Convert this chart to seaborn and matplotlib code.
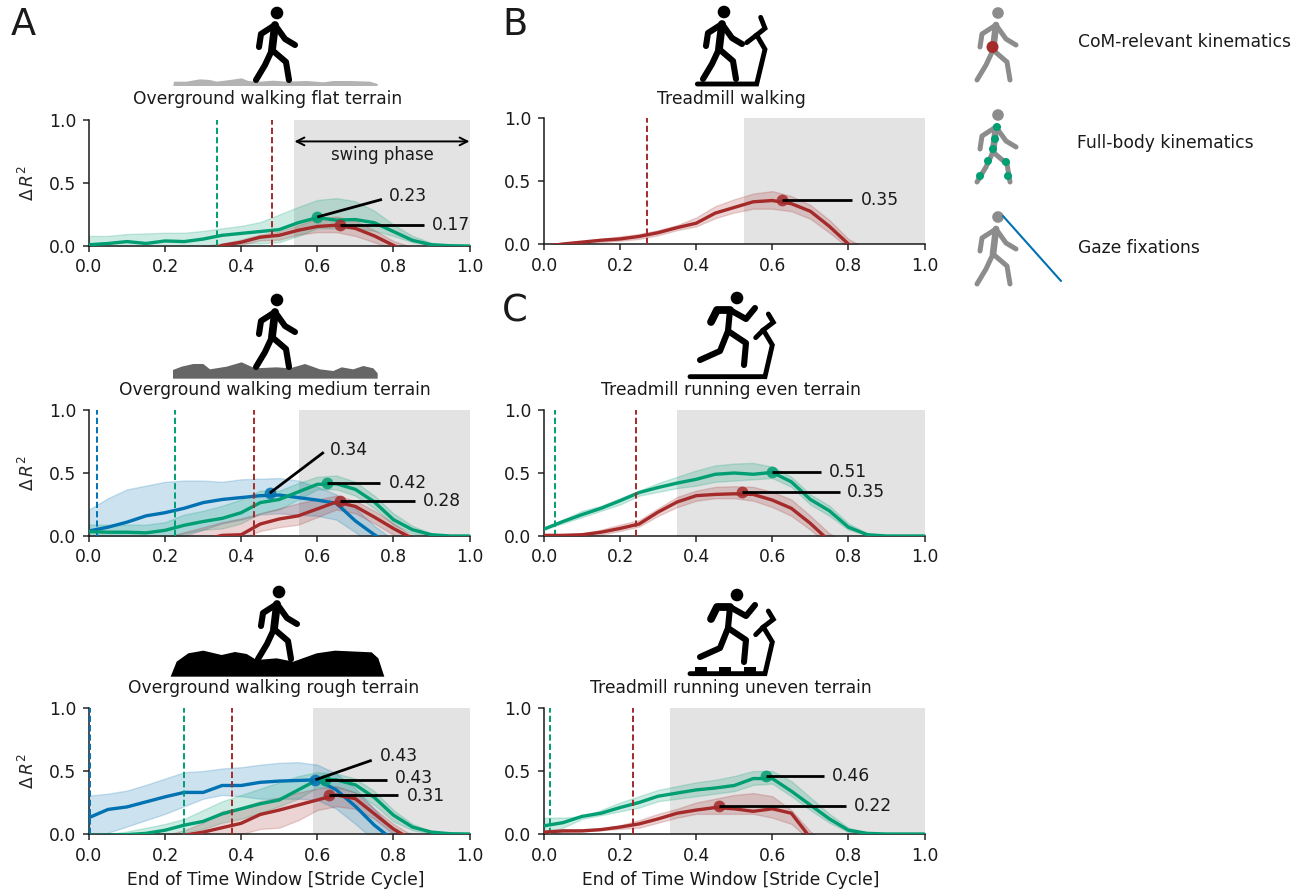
import matplotlib
matplotlib.use('Agg')
import matplotlib.pyplot as plt
import seaborn as sns

sns.set_style('ticks')
plt.rcParams['font.family'] = ['DejaVu Sans']
plt.rcParams['mathtext.fontset'] = 'dejavusans'

W, H = 1309, 896
GREEN, BLUE, RED = '#009E73', '#0072B2', '#A52A2A'
FS = 12.3

# shared time axis of every curve
xs = [0, .05, .1, .15, .2, .25, .3, .35, .4, .45, .5, .55, .6, .65, .7, .75, .8, .85, .9, .95, 1.0]

# ---- overground flat
flat_green = [.01, .02, .035, .02, .04, .035, .055, .085, .10, .115, .13, .185, .225, .205, .21, .185, .115, .045, .01, .002, 0]
flat_green_hi = [.08, .08, .095, .10, .105, .105, .12, .14, .16, .19, .25, .31, .365, .38, .355, .28, .17, .08, .025, .005, 0]
flat_green_lo = [-.05, -.05, -.03, -.05, -.03, -.03, -.02, .01, .02, .02, .03, .08, .14, .14, .14, .12, .08, .03, .005, 0, 0]
flat_red = [-.2, -.2, -.2, -.2, -.15, -.1, -.05, .005, .03, .07, .085, .125, .155, .165, .14, .08, .005, -.06, -.12, -.2, -.2]
flat_red_hi = [-.2, -.2, -.2, -.15, -.1, -.05, 0, .02, .05, .09, .115, .165, .215, .235, .20, .125, .04, -.01, -.1, -.2, -.2]
flat_red_lo = [-.2, -.2, -.2, -.2, -.2, -.15, -.1, -.01, .01, .045, .05, .09, .11, .11, .08, .03, -.03, -.06, -.15, -.2, -.2]

# ---- overground medium
med_blue = [.04, .07, .11, .16, .185, .22, .265, .29, .305, .32, .325, .305, .285, .26, .12, .01, -.08, -.2, -.2, -.2, -.2]
med_blue_hi = [.21, .30, .37, .40, .43, .44, .44, .43, .45, .455, .46, .44, .39, .33, .22, .08, -.03, -.1, -.2, -.2, -.2]
med_blue_lo = [-.1, -.1, -.1, -.1, -.05, 0, .05, .10, .13, .17, .18, .17, .16, .13, .03, -.08, -.2, -.2, -.2, -.2, -.2]
med_green = [.035, .03, .03, .025, .045, .085, .115, .14, .185, .265, .29, .35, .41, .415, .37, .27, .13, .05, .01, 0, 0]
med_green_hi = [.09, .09, .09, .09, .11, .17, .20, .24, .29, .36, .36, .42, .47, .48, .43, .32, .18, .08, .02, .003, 0]
med_green_lo = [-.05, -.05, -.03, -.05, -.01, .02, .05, .06, .10, .18, .21, .29, .37, .37, .32, .22, .09, .02, 0, 0, 0]
med_red = [-.2, -.2, -.2, -.2, -.15, -.08, -.03, .005, .01, .095, .135, .16, .215, .27, .235, .15, .06, -.02, -.1, -.2, -.2]
med_red_hi = [-.2, -.2, -.2, -.1, -.01, .03, .07, .11, .14, .18, .22, .26, .29, .32, .28, .20, .10, 0, -.1, -.2, -.2]
med_red_lo = [-.2, -.2, -.2, -.2, -.2, -.2, -.15, -.05, -.02, .04, .07, .09, .15, .21, .18, .10, .01, -.05, -.15, -.2, -.2]

# ---- overground rough
rough_blue = [.13, .195, .215, .255, .295, .33, .33, .385, .385, .41, .42, .425, .43, .35, .22, .07, -.05, -.2, -.2, -.2, -.2]
rough_blue_hi = [.305, .32, .345, .39, .44, .49, .50, .52, .53, .55, .565, .57, .55, .48, .36, .2, .03, -.05, -.2, -.2, -.2]
rough_blue_lo = [-.05, .01, .06, .11, .16, .22, .28, .31, .30, .28, .28, .28, .27, .2, .08, -.05, -.2, -.2, -.2, -.2, -.2]
rough_green = [-.01, -.01, -.005, .005, .03, .07, .10, .16, .20, .24, .27, .35, .43, .43, .39, .29, .15, .055, .015, .002, 0]
rough_green_hi = [-.02, 0, .02, .05, .08, .12, .19, .26, .31, .36, .41, .46, .49, .48, .44, .34, .19, .08, .02, 0, 0]
rough_green_lo = [-.05, -.05, -.05, -.03, -.01, .01, .04, .09, .12, .17, .22, .28, .37, .37, .33, .23, .10, .03, .005, 0, 0]
rough_red = [-.2, -.2, -.2, -.1, -.05, -.01, .015, .05, .085, .155, .19, .23, .27, .31, .28, .16, .04, -.05, -.15, -.2, -.2]
rough_red_hi = [-.2, -.2, -.1, -.05, -.01, .03, .09, .18, .21, .26, .29, .33, .36, .38, .33, .2, .08, -.01, -.1, -.2, -.2]
rough_red_lo = [-.2, -.2, -.2, -.2, -.2, -.15, -.05, -.01, 0, .04, .05, .11, .19, .22, .2, .12, 0, -.05, -.15, -.2, -.2]

# ---- treadmill walking
walk_red = [-.02, 0, .015, .03, .04, .06, .09, .13, .165, .245, .29, .335, .345, .32, .26, .14, 0, -.1, -.2, -.2, -.2]
walk_red_hi = [-.01, .005, .02, .04, .06, .08, .11, .15, .21, .30, .355, .40, .42, .38, .31, .19, .04, -.04, -.2, -.2, -.2]
walk_red_lo = [-.03, -.01, .005, .015, .025, .04, .07, .11, .14, .205, .25, .28, .28, .26, .20, .09, -.03, -.1, -.2, -.2, -.2]

# ---- treadmill running even
even_green = [.055, .115, .17, .22, .28, .345, .385, .42, .45, .49, .50, .49, .505, .43, .29, .20, .07, .01, 0, 0, 0]
even_green_hi = [.06, .13, .20, .24, .30, .36, .42, .47, .52, .56, .575, .58, .55, .47, .33, .24, .10, .02, 0, 0, 0]
even_green_lo = [.05, .10, .15, .20, .25, .32, .35, .38, .40, .43, .44, .45, .46, .39, .25, .16, .05, .005, 0, 0, 0]
even_red = [.005, .005, .01, .03, .06, .095, .19, .27, .32, .33, .335, .33, .285, .22, .10, -.04, -.2, -.2, -.2, -.2, -.2]
even_red_hi = [.01, .015, .02, .05, .09, .125, .22, .31, .36, .39, .395, .39, .35, .29, .16, .02, -.05, -.2, -.2, -.2, -.2]
even_red_lo = [-.01, -.005, 0, .01, .04, .075, .16, .23, .28, .30, .30, .28, .23, .16, .05, -.08, -.2, -.2, -.2, -.2, -.2]

# ---- treadmill running uneven
uneven_green = [.065, .09, .14, .165, .21, .25, .30, .325, .35, .365, .385, .44, .44, .34, .23, .12, .03, .005, 0, 0, 0]
uneven_green_hi = [.13, .13, .14, .19, .25, .30, .35, .38, .41, .43, .46, .50, .50, .42, .29, .16, .05, .01, 0, 0, 0]
uneven_green_lo = [0, .05, .12, .15, .18, .21, .26, .28, .30, .32, .34, .39, .40, .30, .19, .09, .015, 0, 0, 0, 0]
uneven_red = [.015, .025, .025, .035, .055, .08, .12, .165, .19, .21, .20, .18, .20, .165, -.03, -.2, -.2, -.2, -.2, -.2, -.2]
uneven_red_hi = [.02, .03, .03, .04, .07, .11, .16, .20, .25, .28, .31, .325, .30, .19, .02, -.1, -.2, -.2, -.2, -.2, -.2]
uneven_red_lo = [.005, .015, .02, .03, .04, .05, .09, .13, .16, .16, .16, .16, .13, .08, -.05, -.2, -.2, -.2, -.2, -.2, -.2]

# curve, upper, lower, colour, window onset, peak x, peak value, leader end x, leader end y, label x, label y
panels = [
    dict(box=(89, 120), left=True, bottom=False, swing=.54, curves=[
        (flat_green, flat_green_hi, flat_green_lo, GREEN, .337, .60, .23, .77, .37, .787, .40),
        (flat_red, flat_red_hi, flat_red_lo, RED, .482, .66, .17, .88, .17, .90, .17)]),
    dict(box=(89, 410), left=True, bottom=False, swing=.553, curves=[
        (med_blue, med_blue_hi, med_blue_lo, BLUE, .02, .475, .34, .617, .665, .633, .685),
        (med_green, med_green_hi, med_green_lo, GREEN, .225, .625, .42, .765, .42, .787, .42),
        (med_red, med_red_hi, med_red_lo, RED, .433, .66, .28, .858, .28, .878, .28)]),
    dict(box=(89, 708), left=True, bottom=True, swing=.59, curves=[
        (rough_blue, rough_blue_hi, rough_blue_lo, BLUE, .003, .595, .43, .743, .585, .765, .62),
        (rough_green, rough_green_hi, rough_green_lo, GREEN, .25, .62, .43, .782, .43, .803, .442),
        (rough_red, rough_red_hi, rough_red_lo, RED, .375, .63, .31, .813, .31, .835, .298)]),
    dict(box=(544, 118), left=False, bottom=False, swing=.525, curves=[
        (walk_red, walk_red_hi, walk_red_lo, RED, .272, .625, .35, .81, .35, .832, .35)]),
    dict(box=(544, 410), left=False, bottom=False, swing=.35, curves=[
        (even_green, even_green_hi, even_green_lo, GREEN, .028, .60, .51, .728, .51, .749, .51),
        (even_red, even_red_hi, even_red_lo, RED, .243, .52, .35, .777, .35, .796, .35)]),
    dict(box=(544, 708), left=False, bottom=True, swing=.33, curves=[
        (uneven_green, uneven_green_hi, uneven_green_lo, GREEN, .015, .583, .46, .735, .46, .757, .46),
        (uneven_red, uneven_red_hi, uneven_red_lo, RED, .233, .46, .22, .793, .22, .814, .22)]),
]
titles = ['Overground walking flat terrain', 'Overground walking medium terrain',
          'Overground walking rough terrain', 'Treadmill walking',
          'Treadmill running even terrain', 'Treadmill running uneven terrain']
title_pos = [(268, 99), (275, 390), (274, 688), (731, 99), (731, 390), (731, 688)]

fig = plt.figure(figsize=(W / 100, H / 100), dpi=100)


def make_axes(x0, ytop, w=380.5, h=126):
    return fig.add_axes([x0 / W, 1 - (ytop + h) / H, w / W, h / H])


for p, title in zip(panels, titles):
    ax = make_axes(*p['box'])
    ax.axvspan(p['swing'], 1, color='#E3E3E3', lw=0, zorder=0)
    for mean, hi, lo, col, onset, px, py, ex, ey, tx, ty in p['curves']:
        ax.fill_between(xs, lo, hi, color=col, alpha=.2, lw=1)
        sns.lineplot(x=xs, y=mean, color=col, lw=2.4, errorbar=None, ax=ax, zorder=3)
        ax.axvline(onset, color=col, ls='--', lw=1.4, dashes=(3.2, 1.6), zorder=3)
        ax.plot([px], [py], 'o', color=col, ms=8.5, alpha=.85, mew=0, zorder=4)
        ax.plot([px, ex], [py, ey], color='black', lw=2, zorder=5, solid_capstyle='butt')
        ax.text(tx, ty, f'{py:.2f}', va='center', ha='left', fontsize=FS, color='#1a1a1a')
    ax.set_xlim(0, 1)
    ax.set_ylim(0, 1)
    ax.set_xticks([0, .2, .4, .6, .8, 1.0])
    ax.set_yticks([0, .5, 1.0])
    ax.tick_params(labelsize=FS, width=1.1, length=4.5, pad=4.5, labelcolor='#1a1a1a')
    if p['left']:
        ax.set_ylabel(r'$\Delta\,R^2$', fontsize=FS, labelpad=8)
    if p['bottom']:
        ax.set_xlabel('End of Time Window [Stride Cycle]', fontsize=FS, labelpad=5, color='#1a1a1a', x=.49)
    sns.despine(ax=ax)
    for side in ['left', 'bottom']:
        ax.spines[side].set_linewidth(1.1)
        ax.spines[side].set_color('#1a1a1a')
    if p['box'] == (89, 120):
        ax.annotate('', xy=(.54, .83), xytext=(1.0, .83),
                    arrowprops=dict(arrowstyle='<->', color='black', lw=1.4, shrinkA=0, shrinkB=0, mutation_scale=14))
        ax.text(.77, .72, 'swing phase', ha='center', va='center', fontsize=FS - .4, color='#1a1a1a')

# overlay in pixel coordinates for pictograms, panel letters and legend text
ov = fig.add_axes([0, 0, 1, 1], zorder=10)
ov.set_xlim(0, W)
ov.set_ylim(H, 0)
ov.axis('off')

walker = [[(-2, 12), (-5, 37)], [(-2, 12), (-16, 21), (-18, 34)], [(-2, 12), (8, 26), (18, 32)],
          [(-5, 37), (-12, 52), (-21, 67)], [(-5, 37), (9, 49), (12, 67)]]
runner = [[(-7, 12), (-20, 12), (-26, 24)], [(-7, 12), (9, 21), (18, 10)], [(-7, 12), (-9, 33)],
          [(-9, 33), (-17, 53), (-37, 62)], [(-9, 33), (9, 45), (7, 67)]]
walk_mill = [[(622, 252), (800, 252), (825, 148), (800, 105), (825, 85), (812, 52)], [(800, 105), (770, 128)]]
run_mill = [[(600, 260), (825, 260), (847, 165), (820, 120), (850, 97), (835, 72)], [(820, 120), (797, 143)]]


def figure_icon(hx, hy, limbs, color='black', lw=4.4, r=6.3):
    for i, limb in enumerate(limbs):
        ov.plot([hx + a for a, b in limb], [hy + b for a, b in limb], color=color,
                lw=lw + 1.2 if i == 0 else lw, solid_capstyle='round', solid_joinstyle='round')
    ov.add_patch(plt.Circle((hx, hy), r, color=color, lw=0))


def mill_icon(lines, dx, dy):
    for line in lines:
        ov.plot([a / 3 + dx for a, b in line], [b / 3 + dy for a, b in line], color='black', lw=3.5,
                solid_capstyle='round', solid_joinstyle='miter')


terrain_flat = [(520, 258), (522, 245), (560, 245), (600, 238), (630, 240), (650, 245), (690, 240), (725, 235),
                (745, 243), (780, 245), (820, 242), (860, 245), (920, 243), (970, 247), (1000, 243), (1050, 243),
                (1110, 245), (1133, 252), (1133, 258)]
terrain_med = [(519, 240), (545, 230), (580, 222), (610, 222), (630, 238), (680, 230), (725, 217), (765, 235),
               (830, 232), (870, 235), (915, 222), (960, 238), (1000, 243), (1025, 232), (1060, 238), (1090, 228),
               (1120, 235), (1133, 250), (1133, 266), (519, 266)]
terrain_rough = [(512, 260), (530, 215), (565, 190), (610, 182), (665, 195), (705, 186), (740, 192), (770, 210),
                 (830, 205), (880, 215), (950, 190), (1005, 182), (1115, 187), (1135, 205), (1153, 260)]

for pts, dy, col in [(terrain_flat, 0, '#B3B3B3'), (terrain_med, 290, '#666666'), (terrain_rough, 590, 'black')]:
    ov.fill([a / 3 for a, b in pts], [b / 3 + dy for a, b in pts], color=col, lw=0)

figure_icon(277, 13, walker)
figure_icon(277, 300, walker)
figure_icon(279, 592, walker)
figure_icon(724, 12, walker)
mill_icon(walk_mill, 490, 0)
figure_icon(737, 298, runner)
mill_icon(run_mill, 490, 290)
figure_icon(737, 595, runner)
mill_icon(run_mill, 490, 587)
for bx in [615, 688, 762]:
    ov.add_patch(plt.Rectangle((bx / 3 + 490, 667), 11.5, 8, color='black', lw=0))

for t, (tx, ty) in zip(titles, title_pos):
    ov.text(tx, ty, t, ha='center', va='center', fontsize=FS, color='#1a1a1a')

for letter, lx, ly in [('A', 11, 35), ('B', 502, 35), ('C', 502, 322)]:
    ov.text(lx, ly, letter, ha='left', va='baseline', fontsize=26.5, color='#1a1a1a')

# legend on the right
GREY = '#8C8C8C'
figure_icon(998, 13, walker, color=GREY, lw=3.6, r=5.8)
figure_icon(998, 115, walker, color=GREY, lw=3.6, r=5.8)
figure_icon(998, 217, walker, color=GREY, lw=3.6, r=5.8)
ov.add_patch(plt.Circle((992.5, 47), 6, color=RED, lw=0, zorder=5))
for dx, dy in [(-1, 12), (-3, 24), (-5, 34), (-10, 46), (8, 47), (-18, 61), (10, 61)]:
    ov.add_patch(plt.Circle((998 + dx, 115 + dy), 4, color=GREEN, lw=0, zorder=5))
ov.plot([1003, 1061], [216, 281], color=BLUE, lw=1.5)
ov.text(1078, 42, 'CoM-relevant kinematics', va='center', fontsize=FS, color='#1a1a1a')
ov.text(1077, 143, 'Full-body kinematics', va='center', fontsize=FS, color='#1a1a1a')
ov.text(1078, 248, 'Gaze fixations', va='center', fontsize=FS, color='#1a1a1a')

fig.savefig('out.png', dpi=100)
